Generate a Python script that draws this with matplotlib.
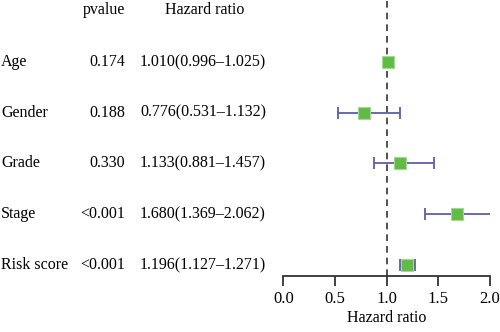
import matplotlib
matplotlib.use('Agg')
from matplotlib import pyplot as plt
import matplotlib.transforms as mtransforms

# data
variables = ['Age', 'Gender', 'Grade', 'Stage', 'Risk score']
pvalues = ['0.174', '0.188', '0.330', '<0.001', '<0.001']
hr = [1.010, 0.776, 1.133, 1.680, 1.196]
hr_low = [0.996, 0.531, 0.881, 1.369, 1.127]
hr_high = [1.025, 1.132, 1.457, 2.062, 1.271]
xticks = [0.0, 0.5, 1.0, 1.5, 2.0]

plt.rcParams['font.family'] = ['Liberation Serif', 'DejaVu Serif']

fig = plt.figure(figsize=(5, 3.32), dpi=100)
ax = fig.add_axes([0.5667, 0.1687, 0.4134, 0.8313])

n = len(variables)
ys = [n - i for i in range(n)]

# dashed reference line at HR = 1
ax.axvline(1.0, color='#333333', linestyle=(0, (4, 3)), linewidth=1.2, zorder=1)

# confidence intervals
for y, lo, hi in zip(ys, hr_low, hr_high):
	ax.errorbar([(lo + hi) / 2], [y], xerr=[[(hi - lo) / 2]],
		fmt='none', ecolor='#5a5fa8', elinewidth=1.3, capsize=4.5,
		capthick=1.3, zorder=2)

ax.plot(hr, ys, linestyle='none', marker='s', markersize=9,
	markerfacecolor='#62bb46', markeredgecolor='#a6d894',
	markeredgewidth=0.8, zorder=3)

ax.set_xlim(0, 2.0)
ax.set_ylim(1 - 11 / 50.75, n + 62 / 50.75)
ax.set_xticks(xticks)
ax.set_xticklabels(['%.1f' % t for t in xticks])
ax.set_yticks([])
for side in ['left', 'top', 'right']:
	ax.spines[side].set_visible(False)
ax.spines['bottom'].set_color('#333333')
ax.spines['bottom'].set_linewidth(1.3)
ax.tick_params(axis='x', direction='out', length=7, width=1.3,
	color='#333333', labelsize=12, pad=4)
ax.set_xlabel('Hazard ratio', fontsize=11.5, labelpad=2)

# table text on the left
trans = mtransforms.blended_transform_factory(fig.transFigure, ax.transData)
head_y = n + 52 / 50.75
ax.text(0.25, head_y, 'pvalue', transform=trans, ha='right', va='center',
	fontsize=11.5, clip_on=False)
ax.text(0.41, head_y, 'Hazard ratio', transform=trans, ha='center',
	va='center', fontsize=11.5, clip_on=False)
for y, name, p, h, lo, hi in zip(ys, variables, pvalues, hr, hr_low, hr_high):
	ax.text(0.002, y, name, transform=trans, ha='left', va='center',
		fontsize=11.5, clip_on=False)
	ax.text(0.25, y, p, transform=trans, ha='right', va='center',
		fontsize=11.5, clip_on=False)
	ax.text(0.28, y, '%.3f(%.3f\u2013%.3f)' % (h, lo, hi), transform=trans,
		ha='left', va='center', fontsize=11.5, clip_on=False)

fig.savefig('out.png', dpi=100)
